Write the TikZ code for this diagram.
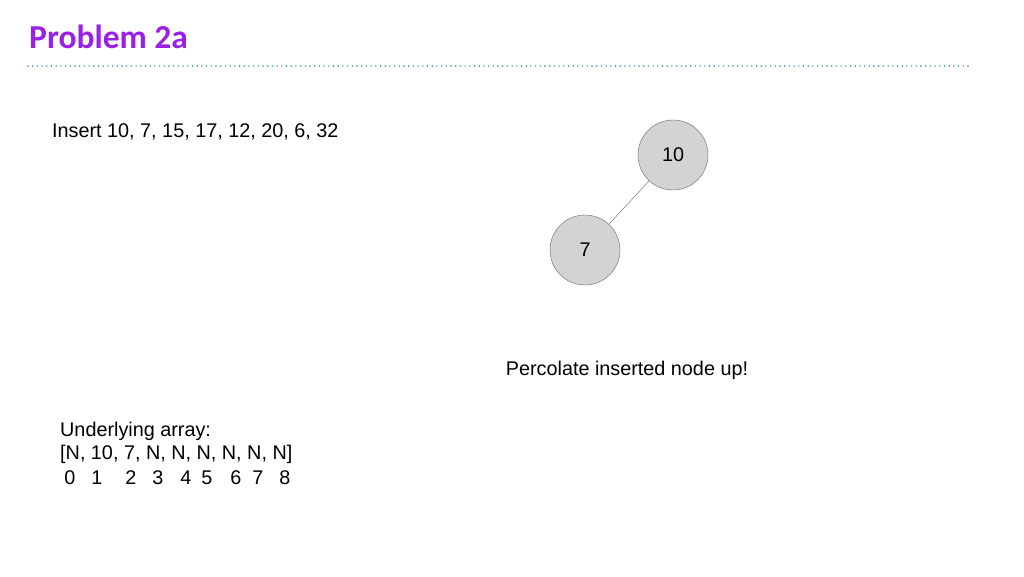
\documentclass[tikz,border=0pt]{standalone}
\usepackage{fontspec}
\setmainfont{Liberation Sans}
\newfontfamily\titlefont{Carlito}
\definecolor{ttl}{HTML}{9B1FE8}
\definecolor{dots}{HTML}{2E8BA0}
\definecolor{nodefill}{HTML}{D3D3D3}
\begin{document}
\begin{tikzpicture}[x=1pt,y=-1pt,
  txt/.style={font=\fontsize{19.8}{23}\selectfont, inner sep=0pt},
  heapnode/.style={circle, draw=gray!80!black, fill=nodefill, minimum size=70pt, inner sep=0pt, font=\fontsize{19.8}{23}\selectfont}]
\useasboundingbox (0,0) rectangle (1024,576);
\node[anchor=west, inner sep=0pt, text=ttl, font=\titlefont\bfseries\fontsize{33.5}{38}\selectfont] (title) at (29,37) {Problem 2a};
\draw[dots, line width=1.6pt, line cap=round, dash pattern=on 0pt off 4.7pt] (28,66) -- (968,66);
\node[txt, anchor=west] (ins) at (52,132) {Insert 10, 7, 15, 17, 12, 20, 6, 32};
\node[heapnode] (n10) at (673,155) {10};
\node[heapnode] (n7) at (585,250) {7};
\draw[gray!80!black] (n10) -- (n7);
\node[txt] (perc) at (627,370) {Percolate inserted node up!};
\node[txt, anchor=west] (ua) at (60,431) {Underlying array:};
\node[txt, anchor=west] (arr) at (60,454) {[N, 10, 7, N, N, N, N, N, N]};
\foreach \x/\d in {70/0,97/1,131/2,158/3,186/4,207/5,236/6,258/7,285/8}
  \node[txt] (i\d) at (\x,478) {\d};
\end{tikzpicture}
\end{document}
